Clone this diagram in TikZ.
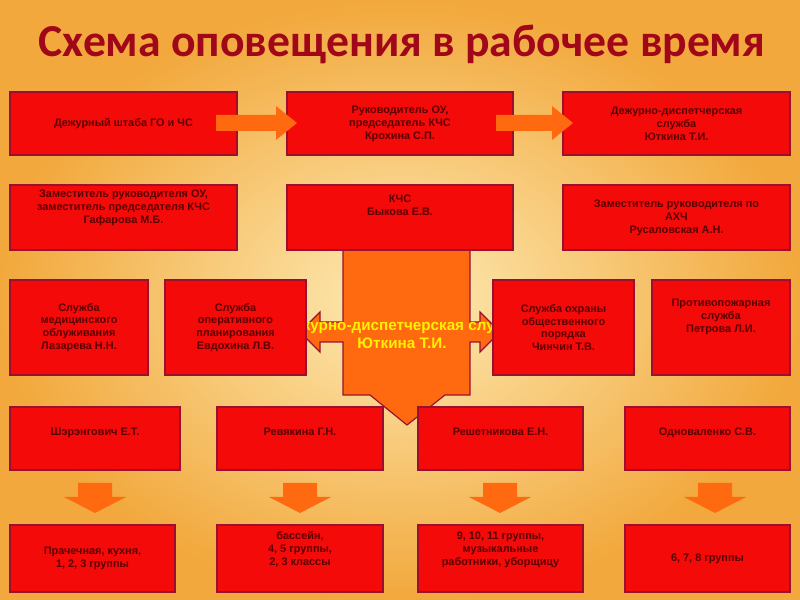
\documentclass[tikz,border=0pt]{standalone}
\usepackage{fontspec}
\setmainfont{Liberation Sans}
\newfontfamily\titlefont{Carlito}
\definecolor{bxred}{HTML}{F50A0A}
\definecolor{bxedge}{HTML}{9A1030}
\definecolor{bxtext}{HTML}{5A0000}
\definecolor{orng}{HTML}{FF6A10}
\definecolor{bgout}{HTML}{F2A83C}
\definecolor{bgin}{HTML}{FDEBB5}
\definecolor{ttl}{HTML}{A0081A}
\begin{document}
\begin{tikzpicture}[x=0.03cm,y=-0.03cm,
  bx/.style={draw=bxedge,line width=1.6pt,fill=bxred,text=bxtext,font=\bfseries\fontsize{9.3}{11}\selectfont,align=center,inner sep=1pt},
  oarrow/.style={fill=orng,draw=none}]
\shade[inner color=bgin,outer color=bgout] (0,0) rectangle (800,600);
\useasboundingbox (0,0) rectangle (800,600);
\node (title) [text=ttl,font=\titlefont\bfseries\fontsize{39}{41}\selectfont] at (402,44) {Схема оповещения в рабочее время};
% central cross shape
\fill[orng,draw=bxedge,line width=1pt] (343,250) -- (470,250) -- (470,322) -- (480,322) -- (480,312) -- (500,332) -- (480,352) -- (480,342) -- (470,342) -- (470,395) -- (445,395) -- (407,425) -- (370,395) -- (343,395) -- (343,342) -- (320,342) -- (320,352) -- (300,332) -- (320,312) -- (320,322) -- (343,322) -- cycle;
\node (center) [text=yellow,font=\bfseries\fontsize{13}{15}\selectfont,align=center] at (402,334) {Дежурно-диспетчерская служба\\Юткина Т.И.};
% row 1
\node (a1) [bx,minimum width=227*0.03cm,minimum height=63*0.03cm] at (123.5,123.5) {Дежурный штаба ГО и ЧС};
\node (a2) [bx,minimum width=226*0.03cm,minimum height=63*0.03cm] at (400,123.5) {Руководитель ОУ,\\председатель КЧС\\Крохина С.П.};
\node (a3) [bx,minimum width=227*0.03cm,minimum height=63*0.03cm] at (676.5,123.5) {Дежурно-диспетчерская\\служба\\Юткина Т.И.};
\fill[oarrow] (216,115) -- (276,115) -- (276,106) -- (297,123) -- (276,140) -- (276,131) -- (216,131) -- cycle;
\fill[oarrow] (496,115) -- (552,115) -- (552,106) -- (573,123) -- (552,140) -- (552,131) -- (496,131) -- cycle;
% row 2
\node (b1) [bx,minimum width=227*0.03cm,minimum height=65*0.03cm] at (123.5,217.5) {Заместитель руководителя ОУ,\\заместитель председателя КЧС\\Гафарова М.Б.\\[0.8em]};
\node (b2) [bx,minimum width=226*0.03cm,minimum height=65*0.03cm] at (400,217.5) {КЧС\\Быкова Е.В.\\[1em]};
\node (b3) [bx,minimum width=227*0.03cm,minimum height=65*0.03cm] at (676.5,217.5) {Заместитель руководителя по\\АХЧ\\Русаловская А.Н.};
% row 3
\node (c1) [bx,minimum width=138*0.03cm,minimum height=95*0.03cm] at (79,327.5) {Служба\\медицинского\\облуживания\\Лазарева Н.Н.};
\node (c2) [bx,minimum width=141*0.03cm,minimum height=95*0.03cm] at (235.5,327.5) {Служба\\оперативного\\планирования\\Евдохина Л.В.};
\node (c3) [bx,minimum width=141*0.03cm,minimum height=95*0.03cm] at (563.5,327.5) {Служба охраны\\общественного\\порядка\\Чинчин Т.В.};
\node (c4) [bx,minimum width=138*0.03cm,minimum height=95*0.03cm] at (721,327.5) {Противопожарная\\служба\\Петрова Л.И.\\[1em]};
% row 4
\node (d1) [bx,minimum width=170*0.03cm,minimum height=63*0.03cm] at (95,438.5) {Шэрэнгович Е.Т.\\[0.1em]};
\node (d2) [bx,minimum width=166*0.03cm,minimum height=63*0.03cm] at (300,438.5) {Ревякина Г.Н.\\[0.1em]};
\node (d3) [bx,minimum width=165*0.03cm,minimum height=63*0.03cm] at (500.5,438.5) {Решетникова Е.Н.\\[0.1em]};
\node (d4) [bx,minimum width=165*0.03cm,minimum height=63*0.03cm] at (707.5,438.5) {Одноваленко С.В.\\[0.1em]};
% down arrows
\foreach \x in {95,300,500,715}{
  \fill[oarrow] (\x-17,483) -- (\x+17,483) -- (\x+17,497) -- (\x+31,497) -- (\x,513) -- (\x-31,497) -- (\x-17,497) -- cycle;}
% row 5
\node (e1) [bx,minimum width=165*0.03cm,minimum height=67*0.03cm] at (92.5,558.5) {Прачечная, кухня,\\1, 2, 3 группы};
\node (e2) [bx,minimum width=166*0.03cm,minimum height=67*0.03cm] at (300,558.5) {бассейн,\\4, 5 группы,\\2, 3 классы\\[0.6em]};
\node (e3) [bx,minimum width=165*0.03cm,minimum height=67*0.03cm] at (500.5,558.5) {9, 10, 11 группы,\\музыкальные\\работники, уборщицу\\[0.6em]};
\node (e4) [bx,minimum width=165*0.03cm,minimum height=67*0.03cm] at (707.5,558.5) {6, 7, 8 группы};
\end{tikzpicture}
\end{document}
